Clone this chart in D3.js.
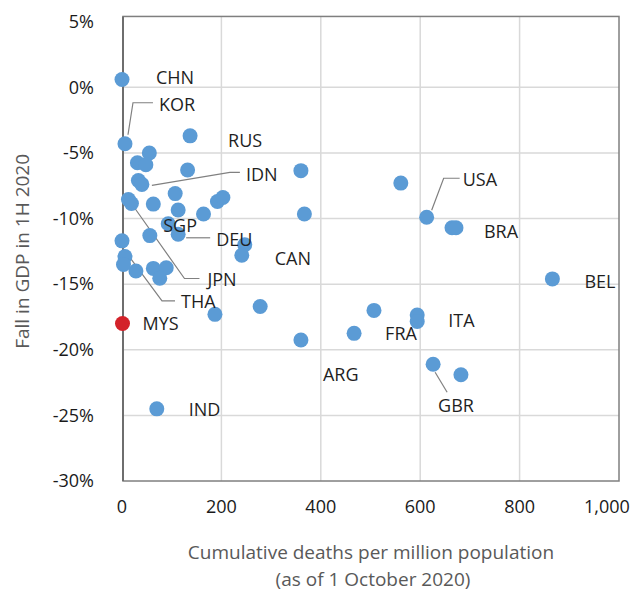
<!DOCTYPE html>
<html>
<head>
<meta charset="utf-8">
<script src="https://cdn.jsdelivr.net/npm/d3@7"></script>
<style>
  body { margin: 0; background: #fff; }
  text { font-family: "Open Sans", "Noto Sans", sans-serif; }
</style>
</head>
<body>
<div id="chart"></div>
<script>
// country codes ("" = no label), deaths per million, fall in GDP (%)
const codes = ["CHN","KOR","RUS","","","","","","IDN","JPN","","","","","","","","SGP","DEU","","THA","","","","","","","","CAN","","","MYS","IND","","","","USA","","BRA","BEL","","ITA","","FRA","ARG","GBR",""];
const deaths = [0,6,137,55,31,48,132,33,40,13,19,63,107,113,164,192,203,93,113,56,0,6,3,28,63,89,76,247,241,187,278,1,70,360,367,561,613,664,672,866,507,594,594,467,360,626,682];
const gdpFall = [0.6,-4.3,-3.7,-5.0,-5.75,-5.9,-6.3,-7.1,-7.4,-8.55,-8.85,-8.9,-8.1,-9.35,-9.65,-8.7,-8.4,-10.4,-11.2,-11.3,-11.7,-12.9,-13.5,-14.0,-13.8,-13.75,-14.55,-12.0,-12.8,-17.3,-16.7,-18.0,-24.5,-6.35,-9.65,-7.3,-9.9,-10.7,-10.7,-14.6,-17.0,-17.35,-17.85,-18.75,-19.26,-21.1,-21.9];
const highlight = "MYS";

const xTicks = [0, 200, 400, 600, 800, 1000];
const yTicks = [5, 0, -5, -10, -15, -20, -25, -30];

// label placement: text offset from the dot, optional leader line (offsets)
const labelLayout = {
  CHN: { dx: 34, dy: -2 },
  KOR: { dx: 34, dy: -39, leader: [[3, -9], [8, -41], [28, -41]] },
  RUS: { dx: 38, dy: 5 },
  IDN: { dx: 104, dy: -10, leader: [[10, 1], [88, -12], [98, -12]] },
  SGP: { dx: -5, dy: 2 },
  DEU: { dx: 38, dy: 5, leader: [[8, 3.5], [32, 3.5]] },
  CAN: { dx: 33, dy: 3 },
  JPN: { dx: 79, dy: 80, leader: [[3, 4], [56, 79], [71, 79]] },
  THA: { dx: 59, dy: 61, leader: [[0, 6], [40, 60], [53, 60]] },
  MYS: { dx: 20, dy: 0 },
  IND: { dx: 32, dy: 1 },
  USA: { dx: 36, dy: -38, leader: [[5, -7], [17, -39], [33, -39]] },
  BRA: { dx: 28, dy: 4 },
  BEL: { dx: 32, dy: 3 },
  ITA: { dx: 31, dy: 6 },
  FRA: { dx: 31, dy: 0 },
  ARG: { dx: 22, dy: 35 },
  GBR: { dx: 5, dy: 41, leader: [[2, 8], [14, 28]] }
};

const width = 643, height = 595;
const svg = d3.select("#chart").append("svg")
  .attr("width", width)
  .attr("height", height);

const x = d3.scaleLinear().domain([0, 1000]).range([122, 619]);
const y = d3.scaleLinear().domain([-30, 5]).range([481, 21.7]);

// gridlines
svg.append("g")
  .selectAll("line")
  .data(yTicks.filter(t => t < 5 && t > -30))
  .join("line")
    .attr("x1", x(0)).attr("x2", x(1000))
    .attr("y1", d => y(d)).attr("y2", d => y(d))
    .attr("stroke", "#d9d9d9").attr("stroke-width", 1.5);

svg.append("g")
  .selectAll("line")
  .data(xTicks.filter(t => t > 0 && t < 1000))
  .join("line")
    .attr("x1", d => x(d)).attr("x2", d => x(d))
    .attr("y1", y(5.4)).attr("y2", y(-30))
    .attr("stroke", "#d9d9d9").attr("stroke-width", 1.5);

// frame
svg.append("rect")
  .attr("x", x(0) + 1).attr("y", y(5.4))
  .attr("width", x(1000) - x(0) - 1).attr("height", y(-30) - y(5.4))
  .attr("fill", "none")
  .attr("stroke", "#7f7f7f").attr("stroke-width", 1.5);

svg.append("line")
  .attr("x1", x(0) + 1).attr("x2", x(0) + 1)
  .attr("y1", y(5.4)).attr("y2", y(-30))
  .attr("stroke", "#6e6e6e").attr("stroke-width", 2);

// tick labels
svg.append("g")
  .selectAll("text")
  .data(yTicks)
  .join("text")
    .attr("x", 94)
    .attr("y", d => y(d))
    .attr("dy", "0.35em")
    .attr("text-anchor", "end")
    .attr("font-size", 18)
    .attr("fill", "#1a1a1a")
    .text(d => d + "%");

svg.append("g")
  .selectAll("text")
  .data(xTicks)
  .join("text")
    .attr("x", d => d === 1000 ? x(d) - 12 : x(d))
    .attr("y", 513)
    .attr("text-anchor", "middle")
    .attr("font-size", 18)
    .attr("fill", "#1a1a1a")
    .text(d => d3.format(",")(d));

// axis titles
svg.append("text")
  .attr("transform", "translate(29," + y(-12.5) + ") rotate(-90)")
  .attr("text-anchor", "middle")
  .attr("font-size", 19)
  .attr("fill", "#595959")
  .text("Fall in GDP in 1H 2020");

const xTitle = svg.append("text")
  .attr("text-anchor", "middle")
  .attr("font-size", 19)
  .attr("fill", "#595959");
xTitle.append("tspan").attr("x", 371).attr("y", 559).text("Cumulative deaths per million population");
xTitle.append("tspan").attr("x", 373).attr("y", 586).text("(as of 1 October 2020)");

// points
const points = codes.map((c, i) => ({ code: c, deaths: deaths[i], gdp: gdpFall[i] }));

// leader lines
const labelled = points.filter(p => labelLayout[p.code]);
svg.append("g")
  .selectAll("polyline")
  .data(labelled.filter(p => labelLayout[p.code].leader))
  .join("polyline")
    .attr("points", p => labelLayout[p.code].leader
      .map(o => [x(p.deaths) + o[0], y(p.gdp) + o[1]].join(",")).join(" "))
    .attr("fill", "none")
    .attr("stroke", "#808080")
    .attr("stroke-width", 1.2);

svg.append("g")
  .selectAll("circle")
  .data(points)
  .join("circle")
    .attr("cx", d => x(d.deaths))
    .attr("cy", d => y(d.gdp))
    .attr("r", 7.5)
    .attr("fill", d => d.code === highlight ? "#d3222a" : "#5b9bd5");

// labels
svg.append("g")
  .selectAll("text")
  .data(labelled)
  .join("text")
    .attr("x", p => x(p.deaths) + labelLayout[p.code].dx)
    .attr("y", p => y(p.gdp) + labelLayout[p.code].dy)
    .attr("dy", "0.35em")
    .attr("font-size", 18)
    .attr("fill", "#1f1f1f")
    .text(p => p.code);
</script>
</body>
</html>
